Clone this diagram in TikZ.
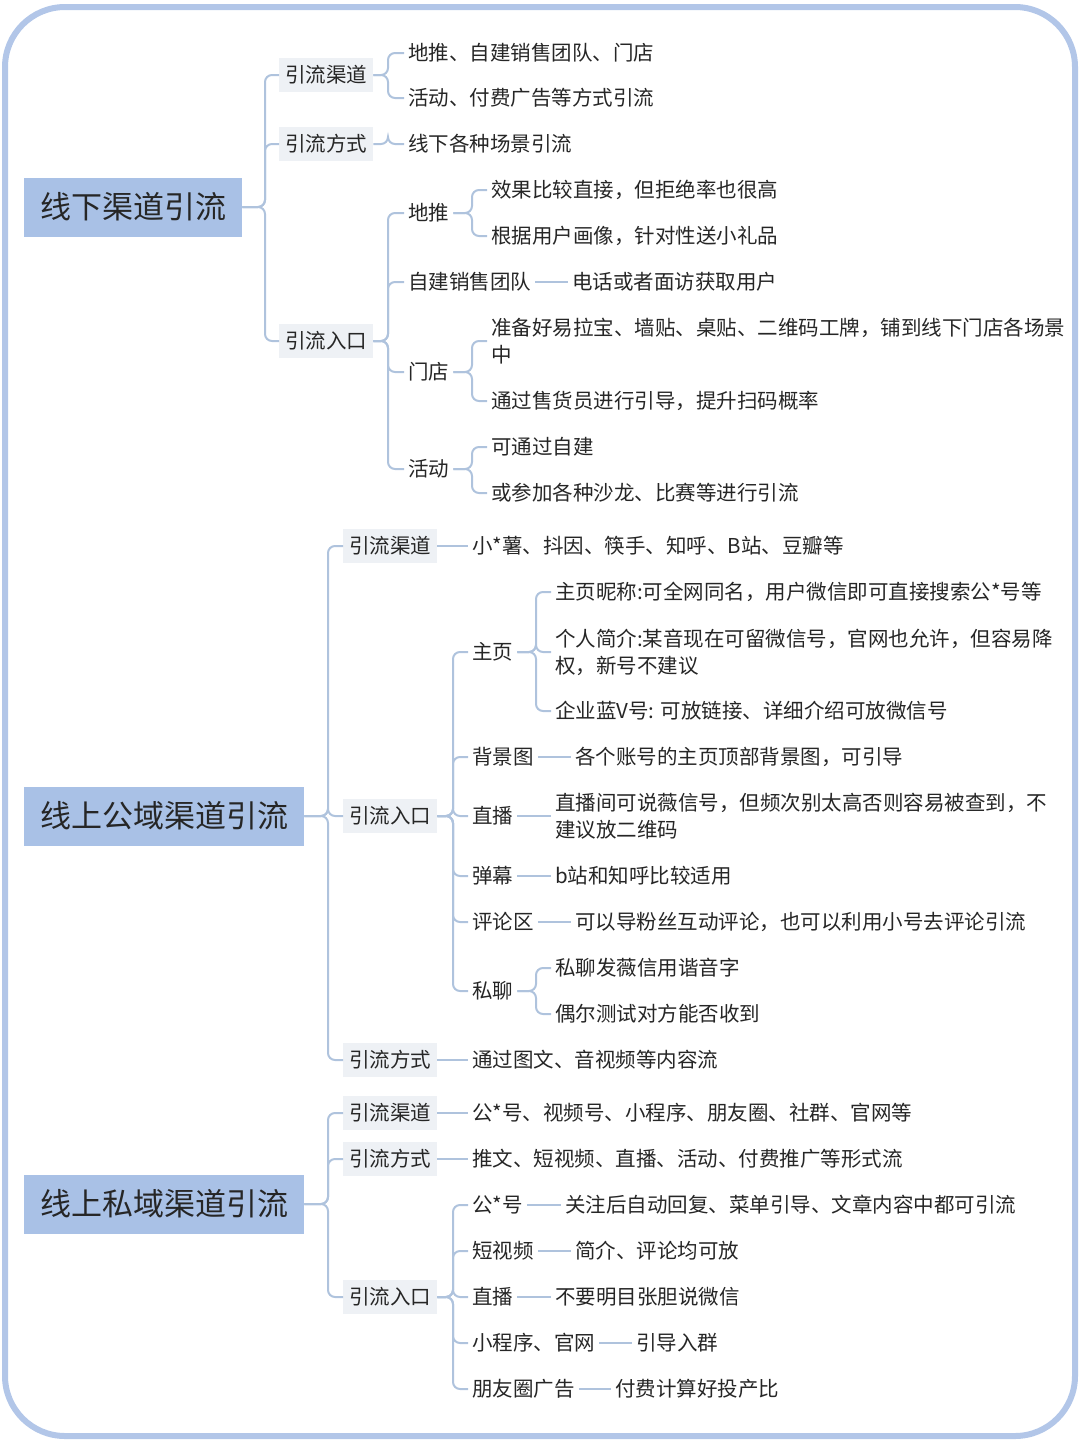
\documentclass[tikz,border=0pt]{standalone}
\usepackage{fontspec}
\setmainfont{Noto Sans CJK SC}
\begin{document}
\begin{tikzpicture}[x=1pt,y=-1pt,
  conn/.style={draw=lineC,line width=2pt,rounded corners=7pt},
  root/.style={fill=rootC,anchor=west,inner xsep=16pt,minimum height=59pt,font=\fontsize{31}{34}\selectfont,text=black!85},
  box/.style={fill=boxC,anchor=west,inner xsep=6pt,minimum height=34pt,font=\fontsize{20.5}{24}\selectfont,text=black!85},
  leaf/.style={anchor=west,inner xsep=4pt,inner ysep=3pt,font=\fontsize{20.5}{27}\selectfont,align=left,text=black!85}]
\definecolor{lineC}{HTML}{AFC3DD}
\definecolor{rootC}{HTML}{A9C1E6}
\definecolor{boxC}{HTML}{EEF1F5}
\definecolor{frameC}{HTML}{B2C6E8}
\useasboundingbox (0,0) rectangle (1080,1443);
\draw[frameC,line width=6pt,rounded corners=60pt] (5,7) rectangle (1075,1436);
\newcommand\cn[3]{\draw[conn] (#1.east) -- (#2,0 |- #1.east) |- (#3.west);}
% ---------- root 1
\node[root] (R1) at (24,207) {线下渠道引流};
\node[box] (A1) at (279,75) {引流渠道};
\node[box] (A2) at (279,144) {引流方式};
\node[box] (A3) at (279,341) {引流入口};
\foreach \c in {A1,A2,A3}{\cn{R1}{265}{\c}}
\node[leaf] (a11) at (404,53) {地推、自建销售团队、门店};
\node[leaf] (a12) at (404,98) {活动、付费广告等方式引流};
\cn{A1}{388}{a11}\cn{A1}{388}{a12}
\node[leaf] (a21) at (404,144) {线下各种场景引流};
\cn{A2}{388}{a21}
\node[leaf] (b1) at (404,213) {地推};
\node[leaf] (b2) at (404,282) {自建销售团队};
\node[leaf] (b3) at (404,372) {门店};
\node[leaf] (b4) at (404,469) {活动};
\foreach \c in {b1,b2,b3,b4}{\cn{A3}{388}{\c}}
\node[leaf] (b11) at (487,190) {效果比较直接，但拒绝率也很高};
\node[leaf] (b12) at (487,236) {根据用户画像，针对性送小礼品};
\cn{b1}{472}{b11}\cn{b1}{472}{b12}
\node[leaf] (b21) at (568,282) {电话或者面访获取用户};
\draw[conn] (b2.east) -- (b21.west);
\node[leaf] (b31) at (487,341) {准备好易拉宝、墙贴、桌贴、二维码工牌，铺到线下门店各场景\\中};
\node[leaf] (b32) at (487,401) {通过售货员进行引导，提升扫码概率};
\cn{b3}{472}{b31}\cn{b3}{472}{b32}
\node[leaf] (b41) at (487,447) {可通过自建};
\node[leaf] (b42) at (487,493) {或参加各种沙龙、比赛等进行引流};
\cn{b4}{472}{b41}\cn{b4}{472}{b42}
% ---------- root 2
\node[root] (R2) at (24,816) {线上公域渠道引流};
\node[box] (C1) at (343,546) {引流渠道};
\node[box] (C2) at (343,816) {引流入口};
\node[box] (C3) at (343,1060) {引流方式};
\foreach \c in {C1,C2,C3}{\cn{R2}{328}{\c}}
\node[leaf] (c11) at (468,546) {小*薯、抖因、筷手、知呼、B站、豆瓣等};
\draw[conn] (C1.east) -- (c11.west);
\node[leaf] (c31) at (468,1060) {通过图文、音视频等内容流};
\draw[conn] (C3.east) -- (c31.west);
\node[leaf] (d1) at (468,652) {主页};
\node[leaf] (d2) at (468,757) {背景图};
\node[leaf] (d3) at (468,816) {直播};
\node[leaf] (d4) at (468,876) {弹幕};
\node[leaf] (d5) at (468,922) {评论区};
\node[leaf] (d6) at (468,991) {私聊};
\foreach \c in {d1,d2,d3,d4,d5,d6}{\cn{C2}{453}{\c}}
\node[leaf] (d11) at (551,592) {主页昵称:可全网同名，用户微信即可直接搜索公*号等};
\node[leaf] (d12) at (551,652) {个人简介:某音现在可留微信号，官网也允许，但容易降\\权，新号不建议};
\node[leaf] (d13) at (551,711) {企业蓝V号: 可放链接、详细介绍可放微信号};
\foreach \c in {d11,d12,d13}{\cn{d1}{536}{\c}}
\node[leaf] (d21) at (571,757) {各个账号的主页顶部背景图，可引导};
\draw[conn] (d2.east) -- (d21.west);
\node[leaf] (d31) at (551,816) {直播间可说薇信号，但频次别太高否则容易被查到，不\\建议放二维码};
\draw[conn] (d3.east) -- (d31.west);
\node[leaf] (d41) at (551,876) {b站和知呼比较适用};
\draw[conn] (d4.east) -- (d41.west);
\node[leaf] (d51) at (571,922) {可以导粉丝互动评论，也可以利用小号去评论引流};
\draw[conn] (d5.east) -- (d51.west);
\node[leaf] (d61) at (551,968) {私聊发薇信用谐音字};
\node[leaf] (d62) at (551,1014) {偶尔测试对方能否收到};
\cn{d6}{536}{d61}\cn{d6}{536}{d62}
% ---------- root 3
\node[root] (R3) at (24,1204) {线上私域渠道引流};
\node[box] (E1) at (343,1113) {引流渠道};
\node[box] (E2) at (343,1159) {引流方式};
\node[box] (E3) at (343,1297) {引流入口};
\foreach \c in {E1,E2,E3}{\cn{R3}{328}{\c}}
\node[leaf] (e11) at (468,1113) {公*号、视频号、小程序、朋友圈、社群、官网等};
\draw[conn] (E1.east) -- (e11.west);
\node[leaf] (e21) at (468,1159) {推文、短视频、直播、活动、付费推广等形式流};
\draw[conn] (E2.east) -- (e21.west);
\node[leaf] (f1) at (468,1205) {公*号};
\node[leaf] (f2) at (468,1251) {短视频};
\node[leaf] (f3) at (468,1297) {直播};
\node[leaf] (f4) at (468,1343) {小程序、官网};
\node[leaf] (f5) at (468,1389) {朋友圈广告};
\foreach \c in {f1,f2,f3,f4,f5}{\cn{E3}{453}{\c}}
\node[leaf] (f11) at (561,1205) {关注后自动回复、菜单引导、文章内容中都可引流};
\node[leaf] (f21) at (571,1251) {简介、评论均可放};
\node[leaf] (f31) at (551,1297) {不要明目张胆说微信};
\node[leaf] (f41) at (632,1343) {引导入群};
\node[leaf] (f51) at (611,1389) {付费计算好投产比};
\draw[conn] (f1.east) -- (f11.west);
\draw[conn] (f2.east) -- (f21.west);
\draw[conn] (f3.east) -- (f31.west);
\draw[conn] (f4.east) -- (f41.west);
\draw[conn] (f5.east) -- (f51.west);
\end{tikzpicture}
\end{document}
